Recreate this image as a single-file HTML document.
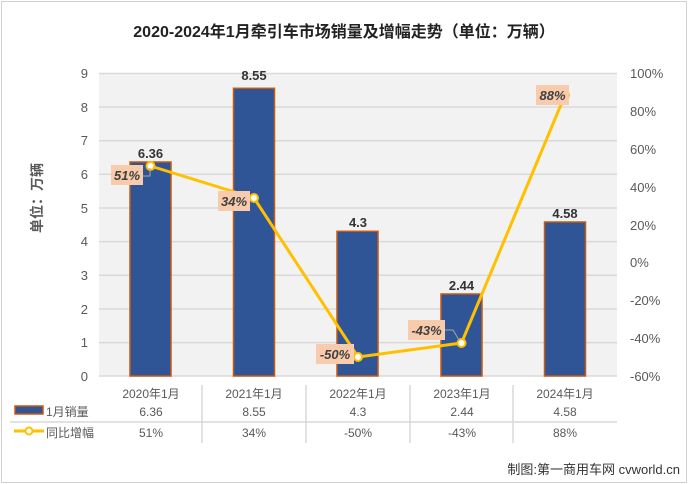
<!DOCTYPE html>
<html><head><meta charset="utf-8"><style>
body{margin:0;background:#fff}
svg{display:block;font-family:"Liberation Sans","Noto Sans CJK SC",sans-serif}
</style></head><body>
<svg width="688" height="484" viewBox="0 0 688 484">
<rect x="1.5" y="1.5" width="685" height="481" fill="#fff" stroke="#d0d0d0"/>
<text x="344" y="37" text-anchor="middle" font-size="16" font-weight="bold" fill="#222">2020-2024年1月牵引车市场销量及增幅走势（单位：万辆）</text>
<rect x="99" y="73" width="518" height="303" fill="#f2f2f2"/>
<g stroke="#d9d9d9" stroke-width="1.5">
<line x1="99" x2="617" y1="73.5" y2="73.5"/><line x1="99" x2="617" y1="107" y2="107"/>
<line x1="99" x2="617" y1="140.7" y2="140.7"/><line x1="99" x2="617" y1="174.3" y2="174.3"/>
<line x1="99" x2="617" y1="208" y2="208"/><line x1="99" x2="617" y1="241.6" y2="241.6"/>
<line x1="99" x2="617" y1="275.3" y2="275.3"/><line x1="99" x2="617" y1="309" y2="309"/>
<line x1="99" x2="617" y1="342.6" y2="342.6"/><line x1="99" x2="617" y1="376" y2="376"/>
</g>
<g font-size="13" fill="#595959" text-anchor="end">
<text x="88" y="78">9</text><text x="88" y="112">8</text><text x="88" y="145">7</text><text x="88" y="179">6</text><text x="88" y="213">5</text><text x="88" y="246">4</text><text x="88" y="280">3</text><text x="88" y="314">2</text><text x="88" y="347">1</text><text x="88" y="381">0</text>
</g>
<g font-size="13" fill="#595959">
<text x="630" y="78">100%</text><text x="630" y="116">80%</text><text x="630" y="154">60%</text><text x="630" y="192">40%</text><text x="630" y="230">20%</text><text x="630" y="267">0%</text><text x="630" y="305">-20%</text><text x="630" y="343">-40%</text><text x="630" y="381">-60%</text>
</g>
<text transform="translate(42,198) rotate(-90)" font-size="14" font-weight="bold" fill="#595959" text-anchor="middle">单位：万辆</text>
<g fill="#2f5597" stroke="#c55a11" stroke-width="1.5">
<rect x="130" y="162" width="41" height="214"/>
<rect x="233.5" y="88.3" width="41" height="287.7"/>
<rect x="337" y="231.3" width="41" height="144.7"/>
<rect x="441" y="294" width="41" height="82"/>
<rect x="544.5" y="222" width="41" height="154"/>
</g>
<g font-size="13" font-weight="bold" fill="#333" text-anchor="middle">
<text x="150.5" y="158">6.36</text><text x="254" y="80">8.55</text><text x="358" y="227">4.3</text><text x="461.5" y="290">2.44</text><text x="565" y="218">4.58</text>
</g>
<polyline points="150.5,166 254,198 358,357 461.5,343 565,95" fill="none" stroke="#ffc000" stroke-width="3"/>
<g fill="#fff" stroke="#ffc000" stroke-width="2">
<circle cx="150.5" cy="166" r="4"/><circle cx="254" cy="198" r="4"/><circle cx="358" cy="357" r="4"/><circle cx="461.5" cy="343" r="4"/><circle cx="565" cy="95" r="4"/>
</g>
<polyline points="143,176 150,176 150,168" fill="none" stroke="#a6a6a6"/>
<polyline points="445,330 453,330 459,340" fill="none" stroke="#a6a6a6"/>
<g fill="#f8cbad"><rect x="111" y="165" width="32" height="20"/><rect x="218" y="191" width="32" height="20"/><rect x="316" y="344" width="38" height="20"/><rect x="408" y="320" width="37" height="20"/><rect x="536" y="85" width="33" height="20"/></g>
<g font-size="13" font-weight="bold" font-style="italic" fill="#404040" text-anchor="middle">
<text x="127" y="180">51%</text><text x="234" y="206">34%</text><text x="335" y="359">-50%</text><text x="426.5" y="335">-43%</text><text x="552.5" y="100">88%</text>
</g>
<g stroke="#d9d9d9" stroke-width="1.5">
<line x1="10" x2="617" y1="422" y2="422"/>
<line x1="202" x2="202" y1="385" y2="443"/><line x1="306" x2="306" y1="385" y2="443"/><line x1="410" x2="410" y1="385" y2="443"/><line x1="513" x2="513" y1="385" y2="443"/>
</g>
<g font-size="12" fill="#595959" text-anchor="middle">
<text x="151" y="398">2020年1月</text><text x="254" y="398">2021年1月</text><text x="358" y="398">2022年1月</text><text x="462" y="398">2023年1月</text><text x="565" y="398">2024年1月</text>
<text x="151" y="416">6.36</text><text x="254" y="416">8.55</text><text x="358" y="416">4.3</text><text x="462" y="416">2.44</text><text x="565" y="416">4.58</text>
<text x="151" y="437">51%</text><text x="254" y="437">34%</text><text x="358" y="437">-50%</text><text x="462" y="437">-43%</text><text x="565" y="437">88%</text>
</g>
<rect x="15" y="406" width="28" height="8" fill="#2f5597" stroke="#c55a11" stroke-width="1.5"/>
<line x1="14" x2="44" y1="431" y2="431" stroke="#ffc000" stroke-width="3"/>
<circle cx="29" cy="431" r="3.5" fill="#fff" stroke="#ffc000" stroke-width="2"/>
<g font-size="12" fill="#595959"><text x="46" y="416">1月销量</text><text x="46" y="437">同比增幅</text></g>
<text x="680" y="474" text-anchor="end" font-size="13" fill="#333">制图:第一商用车网 cvworld.cn</text>
</svg>
</body></html>
